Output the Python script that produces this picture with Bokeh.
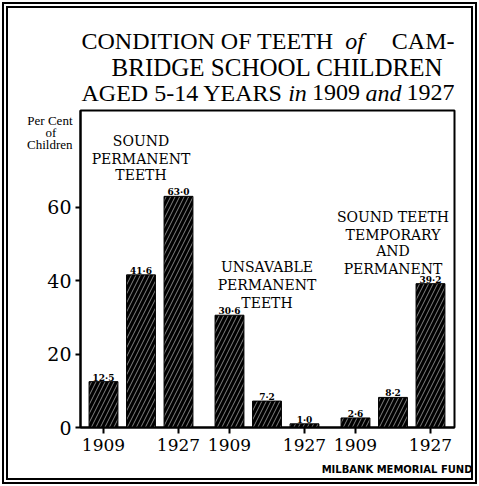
from bokeh.plotting import figure
from bokeh.models import Range1d, FixedTicker, Label, ColumnDataSource, LinearAxis, Title
from bokeh.layouts import column
from bokeh.embed import file_html
from bokeh.resources import INLINE
from bokeh.core.properties import value

# ---- data ----
groups = [["SOUND", "PERMANENT", "TEETH"],
          ["UNSAVABLE", "PERMANENT", "TEETH"],
          ["SOUND TEETH", "TEMPORARY", "AND", "PERMANENT"]]
years = ["1909", "", "1927"]
sound_permanent = [12.5, 41.6, 63.0]
unsavable_permanent = [30.6, 7.2, 1.0]
sound_temp_and_perm = [2.6, 8.2, 39.2]
series = [sound_permanent, unsavable_permanent, sound_temp_and_perm]
y_ticks = [0, 20, 40, 60]
title_lines = [[("CONDITION OF TEETH", "normal"), ("of", "italic"), ("CAM-", "normal")],
               [("BRIDGE SCHOOL CHILDREN", "normal")],
               [("AGED 5-14 YEARS", "normal"), ("in", "italic"), ("1909", "normal"),
                ("and", "italic"), ("1927", "normal")]]
y_label_lines = ["Per Cent", "of", "Children"]
source_note = "MILBANK MEMORIAL FUND"

SERIF = "DejaVu Serif"
TSERIF = "Liberation Serif"
W = 479
H = 486
TOP_H = 108
FL, FR, FT, FB = 80, 454, 110, 427

# ---------------- title strip ----------------
t = figure(width=W, height=TOP_H, title=None,
           x_range=Range1d(FL, FR), y_range=Range1d(TOP_H, 0),
           x_axis_type=None, y_axis_type=None,
           min_border_left=FL, min_border_right=W - FR, min_border_top=0, min_border_bottom=0,
           output_backend="svg", toolbar_location=None)
t.grid.visible = False
t.outline_line_color = None
t.background_fill_color = None
t.border_fill_color = None

title_anchor = [[(81, "left"), (354, "center"), (454, "right")],
                [(277, "center")],
                [(81, "left"), (297, "center"), (335.5, "center"), (383, "center"), (454, "right")]]
title_size = ["24px", "25px", "24px"]
title_base = [40, 67, 92]
for line, anchors, by, sz in zip(title_lines, title_anchor, title_base, title_size):
    for (txt, style), (ax, al) in zip(line, anchors):
        t.add_layout(Label(x=ax, y=by, text=txt, text_font=TSERIF, text_font_size=sz,
                           text_font_style=style, text_align=al,
                           text_baseline="alphabetic", text_color="black"))

# ---------------- main chart ----------------
XS, XE = -0.613, 9.36
YS, YE = 0.0, 86.4
GROUP_STEP = 3.36
BAR_STEP = 1.0


def Y(py):
    return round(YS + (FB - py) / (FB - FT) * (YE - YS), 3)


xs, tops, labels = [], [], []
for g, vals in enumerate(series):
    for i, v in enumerate(vals):
        xs.append(round(g * GROUP_STEP + i * BAR_STEP, 2))
        tops.append(v)
        labels.append(("%.1f" % v).replace(".", "\u00b7"))
src = ColumnDataSource(dict(x=xs, top=tops, lab=labels, ly=[v + 1.1 for v in tops]))

p = figure(width=W, height=H - TOP_H, title=None,
           min_border_left=FL, min_border_right=W - FR,
           min_border_top=FT - TOP_H, min_border_bottom=H - FB,
           x_range=Range1d(XS, XE), y_range=Range1d(YS, YE),
           output_backend="svg", toolbar_location=None)
p.grid.visible = False
p.outline_line_color = "black"
p.outline_line_width = 2
p.background_fill_color = "white"
p.border_fill_color = None

p.vbar(x="x", top="top", width=0.77, source=src,
       fill_color="black", line_color="black", line_width=1,
       hatch_pattern="/", hatch_color="white", hatch_scale=9,
       hatch_weight=0.6, hatch_alpha=0.85)
p.text(x="x", y="ly", text="lab", source=src, text_align="center",
       text_baseline="alphabetic", text_font_size="9px",
       text_font_style="bold", text_font=value(SERIF), text_color="black")

ya = p.yaxis[0]
ya.ticker = FixedTicker(ticks=y_ticks)
ya.major_tick_out = 5
ya.major_tick_in = 0
ya.minor_tick_line_color = None
ya.major_tick_line_width = 2
ya.axis_line_width = 2
ya.major_label_text_font = SERIF
ya.major_label_text_font_size = "19px"
ya.major_label_standoff = 4
ya.major_label_text_color = "black"

# y label as a second (outer) left axis whose tick labels are the three words
yl_pos = [Y(120), Y(132), Y(144)]
pad = "\u00a0" * 5
yl_text = [y_label_lines[0], y_label_lines[1] + pad, y_label_lines[2]]
ya2 = LinearAxis(ticker=FixedTicker(ticks=yl_pos),
                 major_label_overrides=dict(zip(yl_pos, yl_text)),
                 axis_line_color=None, major_tick_line_color=None,
                 minor_tick_line_color=None, major_tick_out=0, major_tick_in=0,
                 major_label_standoff=-28, major_label_text_font=TSERIF,
                 major_label_text_font_size="13px", major_label_text_color="black")
p.add_layout(ya2, "left")

xa = p.xaxis[0]
tick_pos, overrides = [], {}
for g in range(len(series)):
    for i, yr in enumerate(years):
        if yr:
            tp = round(g * GROUP_STEP + i * BAR_STEP, 2)
            tick_pos.append(tp)
            overrides[tp] = yr
xa.ticker = FixedTicker(ticks=tick_pos)
xa.major_label_overrides = overrides
xa.major_tick_out = 6
xa.major_tick_in = 0
xa.major_tick_line_width = 2
xa.minor_tick_line_color = None
xa.axis_line_width = 2
xa.major_label_text_font = SERIF
xa.major_label_text_font_size = "17px"
xa.major_label_standoff = 5
xa.major_label_text_color = "black"

p.add_layout(Title(text=source_note, align="right", offset=-18, standoff=16,
                   text_font="DejaVu Sans", text_font_size="10px",
                   text_font_style="bold", text_color="black"), "below")

# group labels (centred over middle bar of each group)
group_baselines = [[141, 158, 175], [267, 285, 302], [216, 234, 251, 268]]
for g, lines in enumerate(groups):
    cx = g * GROUP_STEP + BAR_STEP
    for line, by in zip(lines, group_baselines[g]):
        p.add_layout(Label(x=cx, y=Y(by), text=line, text_font=SERIF,
                           text_font_size="14px", text_align="center",
                           text_baseline="alphabetic", text_color="black"))

layout = column(t, p, spacing=0,
                styles={"outline": "6px double black", "outline-offset": "-8px"})
open("out.html", "w").write(file_html(layout, INLINE))
